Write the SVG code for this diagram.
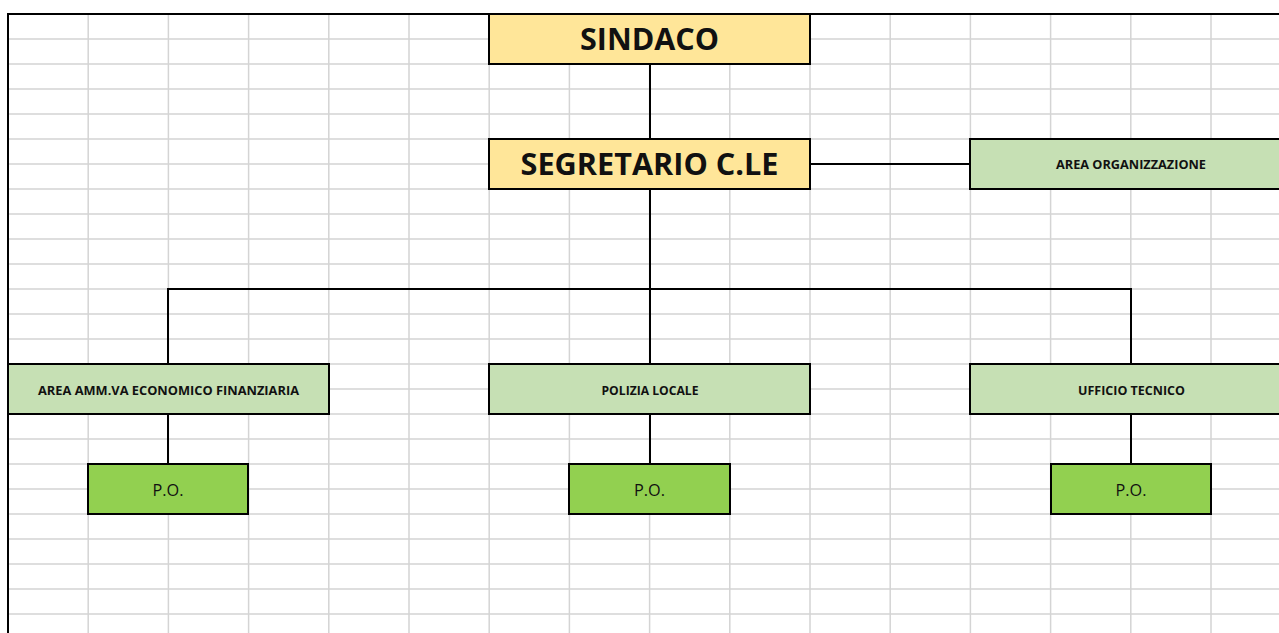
<svg xmlns="http://www.w3.org/2000/svg" width="1279" height="633" viewBox="0 0 1279 633">
<style>
.grid{stroke:#d4d4d4;stroke-width:1.5;fill:none}
.box{stroke:#000;stroke-width:2}
.yel{fill:#FFE699}
.lg{fill:#C6E0B4}
.dg{fill:#92D050}
.conn{stroke:#000;stroke-width:2;fill:none}
.big{font-family:"Open Sans","Liberation Sans",sans-serif;font-weight:bold;font-size:30px;fill:#111}
.sm{font-family:"Open Sans","Liberation Sans",sans-serif;font-weight:bold;font-size:12.5px;fill:#111}
.po{font-family:"Open Sans","Liberation Sans",sans-serif;font-size:16px;fill:#111}
</style>
<rect x="0" y="0" width="1279" height="633" fill="#fff"/>
<g id="grid">
<path class="grid" d="M88.2 14V633M168.4 14V633M248.6 14V633M328.8 14V633M409 14V633M489.2 14V633M569.4 14V633M649.6 14V633M729.8 14V633M810 14V633M890.2 14V633M970.4 14V633M1050.6 14V633M1130.8 14V633M1211 14V633"/>
<path class="grid" d="M8 39H1279M8 64H1279M8 89H1279M8 114H1279M8 139H1279M8 164H1279M8 189H1279M8 214H1279M8 239H1279M8 264H1279M8 289H1279M8 314H1279M8 339H1279M8 364H1279M8 389H1279M8 414H1279M8 439H1279M8 464H1279M8 489H1279M8 514H1279M8 539H1279M8 564H1279M8 589H1279M8 614H1279"/>
<path d="M7 14H1279M8 13V633" stroke="#000" stroke-width="2" fill="none"/>
</g>
<g id="connectors">
<path class="conn" d="M650 64V139"/>
<path class="conn" d="M810 164H970"/>
<path class="conn" d="M650 189V364"/>
<path class="conn" d="M168 364V289H1131V364"/>
<path class="conn" d="M168 414V464"/>
<path class="conn" d="M650 414V464"/>
<path class="conn" d="M1131 414V464"/>
</g>
<g id="sindaco">
<rect class="box yel" x="489" y="14" width="321" height="50"/>
<text class="big" x="649.5" y="50" text-anchor="middle" textLength="139" lengthAdjust="spacingAndGlyphs">SINDACO</text>
</g>
<g id="segretario">
<rect class="box yel" x="489" y="139" width="321" height="50"/>
<text class="big" x="649.5" y="175" text-anchor="middle" textLength="258" lengthAdjust="spacingAndGlyphs">SEGRETARIO C.LE</text>
</g>
<g id="area-organizzazione">
<rect class="box lg" x="970" y="139" width="321" height="50"/>
<text class="sm" x="1131" y="169" text-anchor="middle" textLength="150" lengthAdjust="spacingAndGlyphs">AREA ORGANIZZAZIONE</text>
</g>
<g id="area-amm">
<rect class="box lg" x="8" y="364" width="321" height="50"/>
<text class="sm" x="168.5" y="395" text-anchor="middle" textLength="261" lengthAdjust="spacingAndGlyphs">AREA AMM.VA ECONOMICO FINANZIARIA</text>
</g>
<g id="polizia-locale">
<rect class="box lg" x="489" y="364" width="321" height="50"/>
<text class="sm" x="650" y="395" text-anchor="middle" textLength="97" lengthAdjust="spacingAndGlyphs">POLIZIA LOCALE</text>
</g>
<g id="ufficio-tecnico">
<rect class="box lg" x="970" y="364" width="321" height="50"/>
<text class="sm" x="1131.5" y="395" text-anchor="middle" textLength="107" lengthAdjust="spacingAndGlyphs">UFFICIO TECNICO</text>
</g>
<g id="po-1">
<rect class="box dg" x="88" y="464" width="160" height="50"/>
<text class="po" x="168" y="496" text-anchor="middle" textLength="31" lengthAdjust="spacingAndGlyphs">P.O.</text>
</g>
<g id="po-2">
<rect class="box dg" x="569" y="464" width="161" height="50"/>
<text class="po" x="649.5" y="496" text-anchor="middle" textLength="31" lengthAdjust="spacingAndGlyphs">P.O.</text>
</g>
<g id="po-3">
<rect class="box dg" x="1051" y="464" width="160" height="50"/>
<text class="po" x="1131" y="496" text-anchor="middle" textLength="31" lengthAdjust="spacingAndGlyphs">P.O.</text>
</g>
</svg>
